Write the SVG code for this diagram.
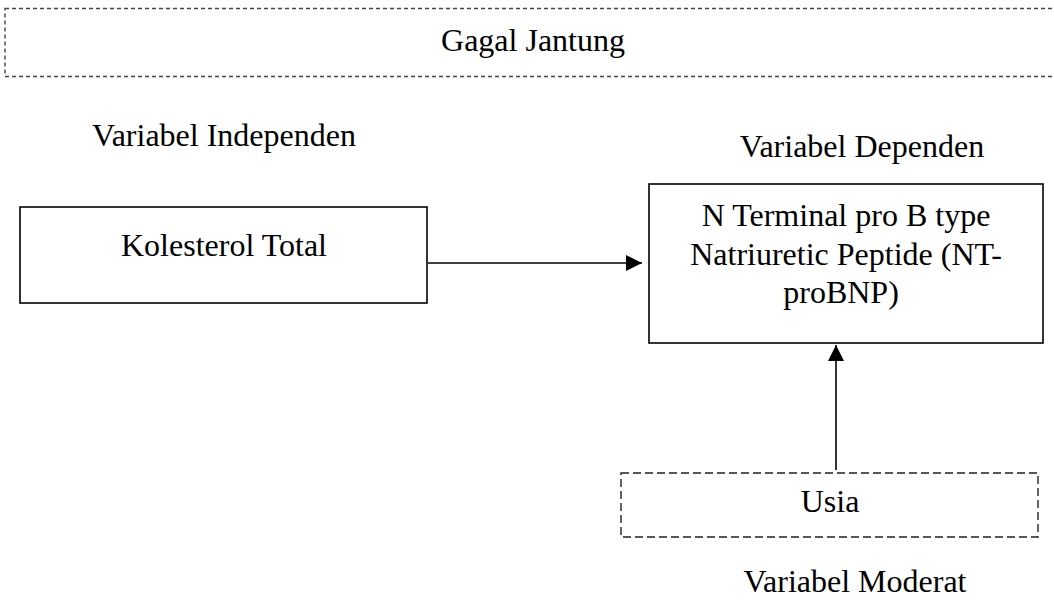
<svg xmlns="http://www.w3.org/2000/svg" width="1054" height="607" viewBox="0 0 1054 607">
  <style>
    text { font-family: "Liberation Serif", "Times New Roman", serif; font-size: 32px; fill: #000; text-anchor: middle; }
    .box { fill: #fff; stroke: #000; stroke-width: 1.6; }
    .dash1 { fill: none; stroke: #444; stroke-width: 1.4; stroke-dasharray: 4 3; }
    .dash2 { fill: none; stroke: #222; stroke-width: 1.4; stroke-dasharray: 8 4; }
    .conn { stroke: #000; stroke-width: 1.6; fill: none; }
  </style>
  <defs>
    <marker id="arrow" viewBox="0 0 16 16" refX="16" refY="8" markerWidth="16" markerHeight="16" markerUnits="userSpaceOnUse" orient="auto">
      <path d="M0,0 L16,8 L0,16 Z" fill="#000"/>
    </marker>
  </defs>
  <rect width="1054" height="607" fill="#fff"/>

  <g id="gagal-jantung">
    <rect class="dash1" x="5" y="8.5" width="1060" height="68"/>
    <text x="533" y="51">Gagal Jantung</text>
  </g>

  <g id="label-independen">
    <text x="224" y="146">Variabel Independen</text>
  </g>

  <g id="label-dependen">
    <text x="862" y="157">Variabel Dependen</text>
  </g>

  <g id="kolesterol">
    <rect class="box" x="20" y="207" width="407" height="96"/>
    <text x="224" y="256">Kolesterol Total</text>
  </g>

  <g id="ntprobnp">
    <rect class="box" x="649" y="184" width="394" height="159"/>
    <text x="846" y="226">N Terminal pro B type</text>
    <text x="846" y="265">Natriuretic Peptide (NT-</text>
    <text x="841" y="303">proBNP)</text>
  </g>

  <g id="usia">
    <rect class="dash2" x="621" y="473" width="417" height="64"/>
    <text x="830" y="512">Usia</text>
  </g>

  <g id="label-moderat">
    <text x="855" y="592">Variabel Moderat</text>
  </g>

  <g id="connectors">
    <line class="conn" x1="428" y1="263" x2="642" y2="263" marker-end="url(#arrow)"/>
    <line class="conn" x1="836" y1="470" x2="836" y2="345" marker-end="url(#arrow)"/>
  </g>
</svg>
